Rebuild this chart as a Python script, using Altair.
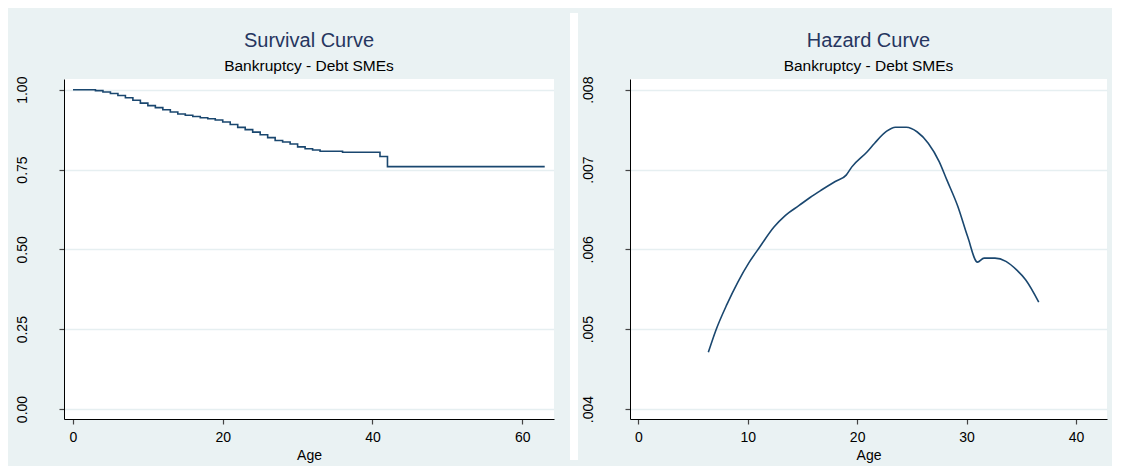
import altair as alt
import pandas as pd

# ---- data ----
surv_age = [0, 3, 4, 5, 6, 7, 8, 9, 10, 11, 12, 13, 14, 15, 16, 17, 18, 19, 20,
            21, 22, 23, 24, 25, 26, 27, 28, 29, 30, 31, 32, 33, 36, 41, 42, 63]
surv_s = [1.000, 0.997, 0.993, 0.988, 0.982, 0.975, 0.967, 0.958, 0.950, 0.944,
          0.937, 0.930, 0.924, 0.920, 0.916, 0.912, 0.909, 0.905, 0.899, 0.891,
          0.882, 0.875, 0.867, 0.859, 0.850, 0.841, 0.836, 0.830, 0.821, 0.815,
          0.811, 0.807, 0.804, 0.791, 0.759, 0.759]

haz_age = [6.4, 7.1, 8.1, 9.1, 10.1, 11.1, 12.4, 13.4, 14.7, 15.7, 16.7, 18.0,
           19.0, 19.5, 20.9, 21.6, 22.7, 23.5, 24.5, 25.5, 26.5, 27.5, 28.2,
           29.2, 30.1, 31.0, 31.6, 32.6, 33.6, 34.6, 35.4, 36.6]
haz_h = [0.00471, 0.00499, 0.00531, 0.00559, 0.00583, 0.00603, 0.00628, 0.00642,
         0.00655, 0.00665, 0.00674, 0.00685, 0.00693, 0.00703, 0.00722, 0.00733,
         0.00748, 0.00753, 0.00753, 0.00747, 0.00733, 0.00710, 0.00687, 0.00654,
         0.00616, 0.00584, 0.00589, 0.00589, 0.00585, 0.00574, 0.00562, 0.00534]

surv_ticks_x = [0, 20, 40, 60]
surv_ticks_y = [0, 0.25, 0.5, 0.75, 1.0]
haz_ticks_x = [0, 10, 20, 30, 40]
haz_ticks_y = [0.004, 0.005, 0.006, 0.007, 0.008]

title_main = ["Survival Curve", "Hazard Curve"]
subtitle = "Bankruptcy - Debt SMEs"

# ---- styling ----
FONT = "Liberation Sans"
LINE = "#1a476f"
BG = "#eaf2f3"
GRID = "#e6eff1"
TITLE_COLOR = "#26365f"
W1, W2, H = 490, 477, 340
SEP_W = 26

surv_df = pd.DataFrame({"age": surv_age, "s": surv_s})
haz_df = pd.DataFrame({"age": haz_age, "h": haz_h})


def x_axis(vals):
    return alt.Axis(values=vals, title="Age", grid=False, labelPadding=6,
                    titlePadding=4, tickSize=5)


def y_axis(vals, expr):
    return alt.Axis(values=vals, labelExpr=expr, title=None, grid=True,
                    gridColor=GRID, gridWidth=1.5, labelAngle=270,
                    labelAlign="center", labelBaseline="alphabetic",
                    labelPadding=33, tickSize=5)


def title(i):
    return alt.TitleParams(text=title_main[i], subtitle=subtitle,
                           anchor="middle", frame="group", font=FONT, fontSize=20,
                           fontWeight="normal", color=TITLE_COLOR,
                           subtitleFont=FONT, subtitleFontSize=15.5,
                           subtitleColor="black", subtitlePadding=8, offset=2)


left = alt.Chart(surv_df).mark_line(
    interpolate="step-after", color=LINE, strokeWidth=1.6
).encode(
    x=alt.X("age:Q", scale=alt.Scale(domain=[-1.2, 64.24], nice=False, zero=False),
            axis=x_axis(surv_ticks_x)),
    y=alt.Y("s:Q", scale=alt.Scale(domain=[-0.0313, 1.0335], nice=False, zero=False),
            axis=y_axis(surv_ticks_y, "format(datum.value, '.2f')")),
).properties(width=W1, height=H, title=title(0))

# white separator strip between the two panels (decoration only)
sep = alt.Chart(pd.DataFrame({"k": [0]})).mark_rule(
    color="white", strokeWidth=8
).encode(
    x=alt.value(20), y=alt.value(-66), y2=alt.value(H + 41)
).properties(width=SEP_W, height=H, view=alt.ViewBackground(fill=BG, stroke=None))

right = alt.Chart(haz_df).mark_line(
    interpolate="monotone", color=LINE, strokeWidth=1.6
).encode(
    x=alt.X("age:Q", scale=alt.Scale(domain=[-0.76, 42.84], nice=False, zero=False),
            axis=x_axis(haz_ticks_x)),
    y=alt.Y("h:Q", scale=alt.Scale(domain=[0.003875, 0.008134], nice=False, zero=False),
            axis=y_axis(haz_ticks_y, "replace(format(datum.value, '.3f'), '0.', '.')")),
).properties(width=W2, height=H, title=title(1))

chart = alt.hconcat(left, sep, right, spacing=0).properties(
    background=BG,
    padding={"left": 6, "top": 1, "right": 5, "bottom": 2},
).configure_view(
    fill="white", stroke=None
).configure_axis(
    labelFont=FONT, titleFont=FONT, labelFontSize=14, titleFontSize=14,
    labelColor="black", titleColor="black", titleFontWeight="normal",
    domainColor="black", domainWidth=1, tickColor="#444", tickWidth=1.2,
)

chart.save("out.html", embed_options={"renderer": "svg", "actions": False})
